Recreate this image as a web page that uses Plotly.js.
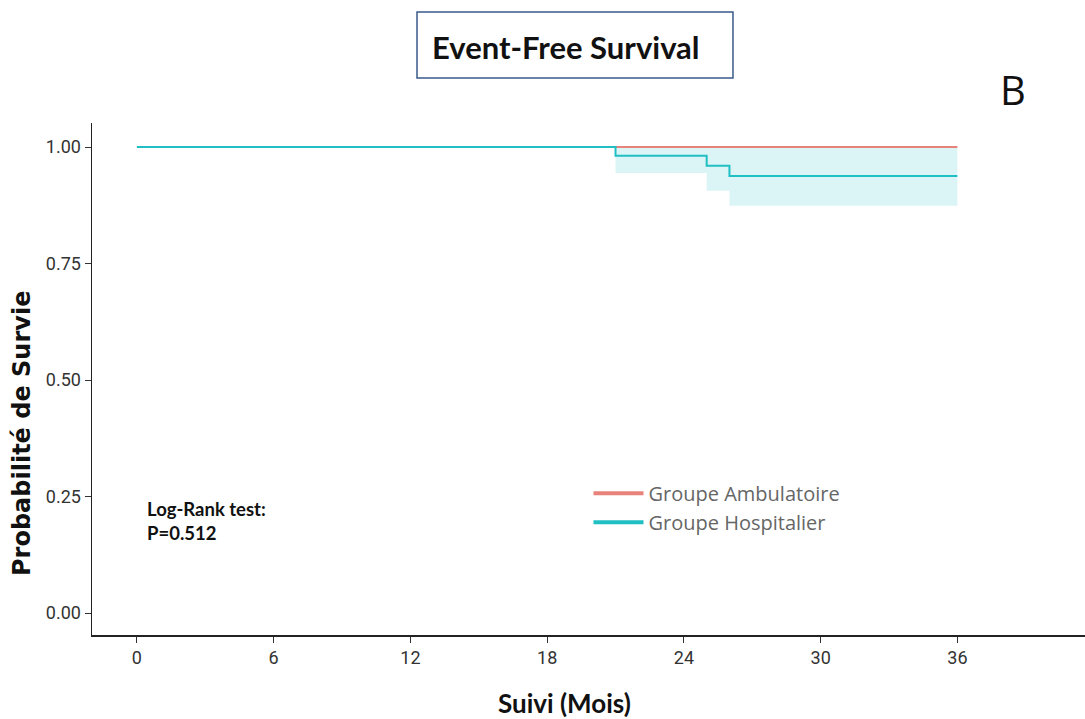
<!DOCTYPE html>
<html>
<head>
<meta charset="utf-8">
<script src="https://cdn.plot.ly/plotly-3.0.1.min.js"></script>
<style>html,body{margin:0;padding:0;background:#fff;}#chart{width:1085px;height:719px;}</style>
</head>
<body>
<div id="chart"></div>
<script>
// Data
const ambTimes = [0, 36];
const ambSurv = [1.0, 1.0];
const hospTimes = [0, 21, 25, 26, 36];
const hospSurv = [1.0, 0.981, 0.960, 0.938, 0.938];
const hospLower = [1.0, 0.944, 0.906, 0.874, 0.874];
const hospUpper = [1.0, 1.0, 1.0, 1.0, 1.0];
const xTicks = [0, 6, 12, 18, 24, 30, 36];
const yTicks = [0, 0.25, 0.5, 0.75, 1.0];
const yTickText = ['0.00', '0.25', '0.50', '0.75', '1.00'];
const seriesNames = ['Groupe Ambulatoire', 'Groupe Hospitalier'];

const colAmb = '#E8837B';
const colHosp = '#1FBFC4';

const traces = [
  {x: hospTimes, y: hospUpper, mode: 'lines', line: {shape: 'hv', width: 0, color: colHosp}, showlegend: false, hoverinfo: 'skip'},
  {x: hospTimes, y: hospLower, mode: 'lines', line: {shape: 'hv', width: 0, color: colHosp}, fill: 'tonexty', fillcolor: 'rgba(31,191,196,0.16)', showlegend: false, hoverinfo: 'skip'},
  {x: ambTimes, y: ambSurv, mode: 'lines', name: seriesNames[0], line: {shape: 'hv', width: 2, color: colAmb}, showlegend: false},
  {x: hospTimes, y: hospSurv, mode: 'lines', name: seriesNames[1], line: {shape: 'hv', width: 2, color: colHosp}, showlegend: false},
  // legend entries (thicker key lines as in the reference)
  {x: [null], y: [null], mode: 'lines', name: seriesNames[0], line: {width: 4, color: colAmb}},
  {x: [null], y: [null], mode: 'lines', name: seriesNames[1], line: {width: 4, color: colHosp}}
];

const layout = {
  width: 1085, height: 719,
  paper_bgcolor: '#fff', plot_bgcolor: '#fff',
  margin: {l: 92, r: 0, t: 123, b: 84},
  showlegend: true,
  legend: {x: 0.500, y: 0.315, xanchor: 'left', yanchor: 'top', bgcolor: 'rgba(0,0,0,0)', traceorder: 'normal',
           itemwidth: 50, font: {family: 'Open Sans', size: 20, color: '#666'}, tracegroupgap: 0},
  xaxis: {range: [-1.97, 41.6], tickvals: xTicks, ticktext: xTicks.map(String), showgrid: false, zeroline: false,
          showline: true, linecolor: '#222', linewidth: 1.5, ticks: 'outside', ticklen: 6, tickcolor: '#333',
          tickfont: {family: 'Roboto', size: 18, color: '#333'}},
  yaxis: {range: [-0.047, 1.0515], tickvals: yTicks, ticktext: yTickText, showgrid: false, zeroline: false,
          showline: true, linecolor: '#222', linewidth: 1.5, ticks: 'outside', ticklen: 6, tickcolor: '#333',
          tickfont: {family: 'Roboto', size: 18, color: '#333'}},
  shapes: [
    {type: 'rect', xref: 'paper', yref: 'paper', x0: 0.3273, x1: 0.6455, y0: 1.0879, y1: 1.2168,
     line: {color: '#3a5a8a', width: 1.5}, fillcolor: 'rgba(0,0,0,0)'}
  ],
  annotations: [
    {xref: 'paper', yref: 'paper', x: 0.3404, y: 1.1484, xanchor: 'left', yanchor: 'middle', showarrow: false,
     text: '<b>Event-Free Survival</b>', font: {family: 'Lato', size: 31, color: '#111'}},
    {xref: 'paper', yref: 'paper', x: 0.9275, y: 1.0645, xanchor: 'center', yanchor: 'middle', showarrow: false,
     text: 'B', font: {family: 'Open Sans', size: 40, color: '#111'}},
    {xref: 'paper', yref: 'paper', x: -0.0705, y: 0.3945, xanchor: 'center', yanchor: 'middle', showarrow: false,
     textangle: -90, text: '<b>Probabilité de Survie</b>', font: {family: 'DejaVu Sans', size: 24, color: '#111'}},
    {xref: 'paper', yref: 'paper', x: 0.4763, y: -0.1328, xanchor: 'center', yanchor: 'middle', showarrow: false,
     text: '<b>Suivi (Mois)</b>', font: {family: 'Lato', size: 26, color: '#111'}},
    {xref: 'paper', yref: 'paper', x: 0.0534, y: 0.2227, xanchor: 'left', yanchor: 'middle', showarrow: false, align: 'left',
     text: '<b>Log-Rank test:<br>P=0.512</b>', font: {family: 'Lato', size: 18.5, color: '#111'}}
  ]
};

Plotly.newPlot('chart', traces, layout, {displayModeBar: false, staticPlot: true});
</script>
</body>
</html>
